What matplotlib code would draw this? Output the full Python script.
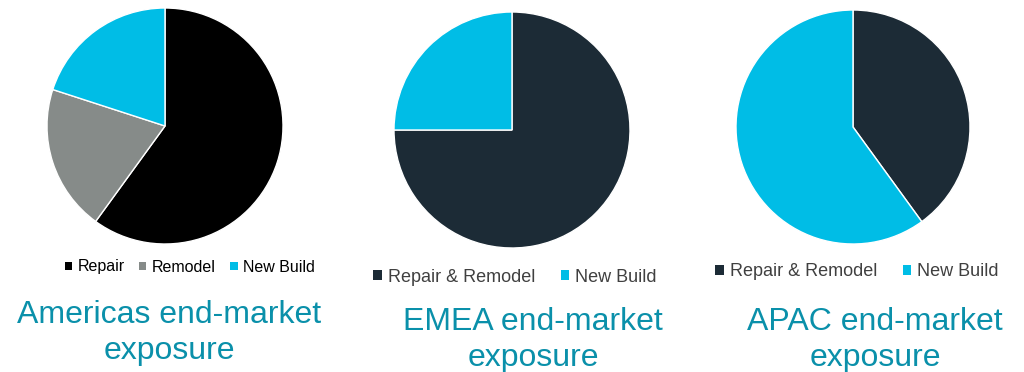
import matplotlib
matplotlib.use("Agg")
import matplotlib.pyplot as plt
from matplotlib.patches import Patch

plt.rcParams['font.family'] = ['Liberation Sans', 'DejaVu Sans']

# data
americas_labels = ['Repair', 'Remodel', 'New Build']
americas_values = [60, 20, 20]
emea_labels = ['Repair & Remodel', 'New Build']
emea_values = [75, 25]
apac_labels = ['Repair & Remodel', 'New Build']
apac_values = [40, 60]
titles = ['Americas end-market\nexposure', 'EMEA end-market\nexposure', 'APAC end-market\nexposure']

BLACK = '#000000'
GRAY = '#868B89'
CYAN = '#00BDE6'
NAVY = '#1C2B36'
TEAL = '#0A90AA'

W, H = 1024, 372
fig = plt.figure(figsize=(W / 100, H / 100), dpi=100)


def pie_axes(cx, cy, r):
    # cx, cy, r in pixels (top-left origin)
    return fig.add_axes([(cx - r) / W, 1 - (cy + r) / H, 2 * r / W, 2 * r / H])


# (values, labels, colors, pie centre/radius, legend centre, legend font, col spacing, legend text colour, title centre)
panels = [
    (americas_values, americas_labels, [BLACK, GRAY, CYAN], (165, 126, 118),
     (190, 267), 11.5, 0.9, BLACK, (169, 333)),
    (emea_values, emea_labels, [NAVY, CYAN], (512, 130, 118),
     (515, 277), 13, 1.4, '#404040', (533, 340)),
    (apac_values, apac_labels, [NAVY, CYAN], (853, 127, 117),
     (857, 272), 13, 1.4, '#404040', (875, 340)),
]

for (vals, labels, colors, (cx, cy, r), (lx, ly), lfs, cs, tcol, (tx, ty)), title in zip(panels, titles):
    ax = pie_axes(cx, cy, r)
    ax.pie(vals, colors=colors, startangle=90, counterclock=False,
           wedgeprops=dict(edgecolor='white', linewidth=1.0))
    ax.set_aspect('equal')
    ax.set_xlim(-1.0, 1.0)
    ax.set_ylim(-1.0, 1.0)

    handles = [Patch(facecolor=c, edgecolor='none') for c in colors]
    fig.legend(handles, labels, loc='center', bbox_to_anchor=(lx / W, 1 - ly / H),
               ncol=len(labels), frameon=False, fontsize=lfs, handlelength=0.45,
               handleheight=0.45, handletextpad=0.35, columnspacing=cs,
               labelcolor=tcol)

    fig.text(tx / W, 1 - ty / H, title, ha='center', va='center', color=TEAL,
             fontsize=23, linespacing=1.25)

fig.savefig('out.png', dpi=100)
